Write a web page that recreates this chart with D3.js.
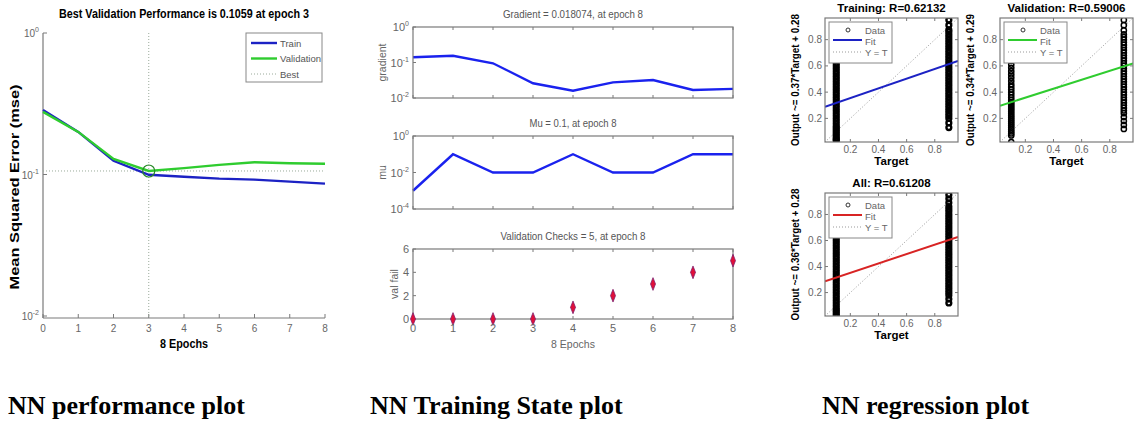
<!DOCTYPE html>
<html>
<head>
<meta charset="utf-8">
<script src="https://cdn.jsdelivr.net/npm/d3@7"></script>
<style>
body { margin: 0; background: #fff; }
svg { display: block; font-family: "Liberation Sans", Arial, sans-serif; }
</style>
</head>
<body>
<svg id="fig" width="1134" height="423"></svg>
<script>
// ---- data ----
var epochs = [0, 1, 2, 3, 4, 5, 6, 7, 8];
var trainPerf = [0.286, 0.2, 0.125, 0.0995, 0.0965, 0.0935, 0.092, 0.089, 0.0862];
var valPerf = [0.277, 0.2, 0.129, 0.1059, 0.111, 0.117, 0.122, 0.12, 0.119];
var bestEpoch = 3;
var bestPerf = 0.1059;

var gradient = [0.14, 0.155, 0.095, 0.026, 0.016, 0.0276, 0.032, 0.0168, 0.018074];
var mu = [0.001, 0.1, 0.01, 0.01, 0.1, 0.01, 0.01, 0.1, 0.1];
var valFail = [0, 0, 0, 0, 1, 2, 3, 4, 5];

var perfTicks = [0.01, 0.1, 1];
var gradTicks = [0.01, 0.1, 1];
var muTicks = [0.0001, 0.01, 1];
var failTicks = [0, 2, 4, 6];
var regTicks = [0.2, 0.4, 0.6, 0.8];

// regression outputs, target 0.1 and target 0.9
var trainOut01 = [0.03, 0.04, 0.05, 0.065, 0.08, 0.095, 0.11, 0.125, 0.14, 0.16, 0.18, 0.2, 0.22, 0.24, 0.26, 0.28, 0.3, 0.32, 0.34, 0.36, 0.38, 0.4, 0.42, 0.44, 0.46, 0.48, 0.5, 0.52, 0.54, 0.56, 0.58, 0.6, 0.62, 0.64, 0.67, 0.7];
var trainOut09 = [0.13, 0.165, 0.2, 0.22, 0.24, 0.26, 0.28, 0.3, 0.32, 0.34, 0.36, 0.38, 0.4, 0.42, 0.44, 0.46, 0.48, 0.5, 0.52, 0.54, 0.56, 0.58, 0.6, 0.62, 0.64, 0.66, 0.68, 0.7, 0.72, 0.74, 0.76, 0.78, 0.8, 0.82, 0.84, 0.86, 0.875, 0.91, 0.95];
var valOut01 = [0.02, 0.07, 0.085, 0.1, 0.115, 0.13, 0.145, 0.16, 0.175, 0.19, 0.205, 0.22, 0.235, 0.25, 0.265, 0.28, 0.295, 0.31, 0.325, 0.34, 0.36, 0.38, 0.4, 0.42, 0.44, 0.46, 0.485, 0.51, 0.535, 0.56, 0.585, 0.61, 0.64];
var valOut09 = [0.12, 0.15, 0.18, 0.21, 0.24, 0.26, 0.28, 0.3, 0.32, 0.34, 0.36, 0.38, 0.4, 0.42, 0.44, 0.46, 0.48, 0.5, 0.52, 0.54, 0.56, 0.58, 0.6, 0.62, 0.64, 0.66, 0.68, 0.7, 0.72, 0.74, 0.76, 0.78, 0.8, 0.82, 0.84, 0.87, 0.91, 0.95];
var allOut01 = [0.02, 0.035, 0.05, 0.065, 0.08, 0.1, 0.12, 0.14, 0.16, 0.18, 0.2, 0.22, 0.24, 0.26, 0.28, 0.3, 0.32, 0.34, 0.36, 0.38, 0.4, 0.42, 0.44, 0.46, 0.48, 0.5, 0.52, 0.54, 0.56, 0.58, 0.6, 0.62, 0.64, 0.67, 0.7];
var allOut09 = [0.12, 0.15, 0.18, 0.2, 0.22, 0.24, 0.26, 0.28, 0.3, 0.32, 0.34, 0.36, 0.38, 0.4, 0.42, 0.44, 0.46, 0.48, 0.5, 0.52, 0.54, 0.56, 0.58, 0.6, 0.62, 0.64, 0.66, 0.68, 0.7, 0.72, 0.74, 0.76, 0.78, 0.8, 0.82, 0.84, 0.86, 0.89, 0.92, 0.95];

var regNames = ["Training", "Validation", "All"];
var regR = ["0.62132", "0.59006", "0.61208"];
var regSlope = [0.37, 0.34, 0.36];
var regIcpt = [0.28, 0.29, 0.28];
var regOut01 = [trainOut01, valOut01, allOut01];
var regOut09 = [trainOut09, valOut09, allOut09];
var regDomain = [0.02, 0.965];

var captions = ["NN performance plot", "NN Training State plot", "NN regression plot"];

// ---- styles ----
var axisGray = "#7a7a7a";
var tickGray = "#666";
var blue = "#1c22c4";
var green = "#2fcc2f";
var red = "#d82424";
var dotGray = "#9aaa9a";

var svg = d3.select("#fig");

function sup(sel, base, exp) {
	sel.text(base);
	sel.append("tspan").attr("dy", -5).attr("font-size", 7).text(exp);
}

function box(g, l, r, t, b) {
	g.append("rect").attr("x", l).attr("y", t).attr("width", r - l).attr("height", b - t)
		.attr("fill", "none").attr("stroke", axisGray).attr("stroke-width", 1.2);
}

// ================= performance plot =================
var pL = { l: 43, r: 325, t: 33, b: 316 };
var xP = d3.scaleLinear().domain([0, 8]).range([pL.l, pL.r]);
var yP = d3.scaleLog().domain([0.01, 1]).range([pL.b, pL.t]);
var gP = svg.append("g");

gP.append("line").attr("x1", pL.l).attr("x2", pL.l).attr("y1", pL.t).attr("y2", pL.b + 2)
	.attr("stroke", axisGray).attr("stroke-width", 1.2);
gP.append("line").attr("x1", pL.l).attr("x2", pL.r).attr("y1", pL.b + 2).attr("y2", pL.b + 2)
	.attr("stroke", axisGray).attr("stroke-width", 1.2);

epochs.forEach(function (e) {
	gP.append("line").attr("x1", xP(e)).attr("x2", xP(e)).attr("y1", pL.b + 2).attr("y2", pL.b - 2)
		.attr("stroke", axisGray);
	gP.append("text").attr("x", xP(e)).attr("y", pL.b + 16).attr("text-anchor", "middle")
		.attr("font-size", 10).attr("fill", tickGray).text(e);
});
perfTicks.forEach(function (v) {
	gP.append("line").attr("x1", pL.l).attr("x2", pL.l + 4).attr("y1", yP(v)).attr("y2", yP(v))
		.attr("stroke", axisGray);
	gP.append("text").attr("x", pL.l - 4).attr("y", yP(v) + 4).attr("text-anchor", "end")
		.attr("font-size", 10).attr("fill", tickGray).call(sup, "10", Math.round(Math.log10(v)));
});

// best lines
gP.append("line").attr("x1", pL.l).attr("x2", pL.r).attr("y1", yP(bestPerf)).attr("y2", yP(bestPerf))
	.attr("stroke", dotGray).attr("stroke-dasharray", "1,2");
gP.append("line").attr("x1", xP(bestEpoch)).attr("x2", xP(bestEpoch)).attr("y1", pL.t).attr("y2", pL.b)
	.attr("stroke", dotGray).attr("stroke-dasharray", "1,2");

var lineP = function (arr) {
	return d3.line().x(function (d, i) { return xP(epochs[i]); }).y(function (d) { return yP(d); })(arr);
};
gP.append("path").attr("d", lineP(trainPerf)).attr("fill", "none").attr("stroke", blue).attr("stroke-width", 2.4);
gP.append("path").attr("d", lineP(valPerf)).attr("fill", "none").attr("stroke", green).attr("stroke-width", 2.4);
gP.append("circle").attr("cx", xP(bestEpoch)).attr("cy", yP(bestPerf)).attr("r", 6)
	.attr("fill", "none").attr("stroke", "#2a8a2a").attr("stroke-width", 1.2);

gP.append("text").attr("x", (pL.l + pL.r) / 2).attr("y", 18).attr("text-anchor", "middle")
	.attr("font-size", 12.5).attr("font-weight", "bold").attr("textLength", 250)
	.attr("lengthAdjust", "spacingAndGlyphs").text("Best Validation Performance is 0.1059 at epoch 3");
gP.append("text").attr("x", (pL.l + pL.r) / 2).attr("y", 348).attr("text-anchor", "middle")
	.attr("font-size", 12).attr("font-weight", "bold").attr("textLength", 48)
	.attr("lengthAdjust", "spacingAndGlyphs").text("8 Epochs");
gP.append("text").attr("transform", "translate(19,187) rotate(-90)").attr("text-anchor", "middle")
	.attr("font-size", 12).attr("font-weight", "bold").attr("textLength", 205)
	.attr("lengthAdjust", "spacingAndGlyphs").text("Mean Squared Error  (mse)");

// legend
var lgP = gP.append("g");
lgP.append("rect").attr("x", 246).attr("y", 33).attr("width", 76).attr("height", 49)
	.attr("fill", "#fff").attr("stroke", "#888");
var perfLegend = [["Train", blue, null], ["Validation", green, null], ["Best", dotGray, "1,2"]];
perfLegend.forEach(function (d, i) {
	var y = 43 + i * 15.5;
	lgP.append("line").attr("x1", 251).attr("x2", 277).attr("y1", y).attr("y2", y)
		.attr("stroke", d[1]).attr("stroke-width", d[2] ? 1 : 2.4).attr("stroke-dasharray", d[2]);
	lgP.append("text").attr("x", 280).attr("y", y + 3.5).attr("font-size", 9.5).attr("fill", "#555").text(d[0]);
});

// ================= training state plot =================
var sx = d3.scaleLinear().domain([0, 8]).range([413, 733]);
var panels = [
	{ t: 27, b: 98, y: d3.scaleLog().domain([0.01, 1]), ticks: gradTicks, log: true, label: "gradient", title: "Gradient = 0.018074, at epoch 8", tw: 140, data: gradient },
	{ t: 136, b: 209, y: d3.scaleLog().domain([0.0001, 1]), ticks: muTicks, log: true, label: "mu", title: "Mu = 0.1, at epoch 8", tw: 87, data: mu },
	{ t: 249, b: 319, y: d3.scaleLinear().domain([0, 6]), ticks: failTicks, log: false, label: "val fail", title: "Validation Checks = 5, at epoch 8", tw: 145, data: valFail }
];
var gS = svg.append("g");
panels.forEach(function (p, k) {
	p.y.range([p.b, p.t]);
	var g = gS.append("g");
	if (p.log) {
		var ln = d3.line().x(function (d, i) { return sx(epochs[i]); }).y(function (d) { return p.y(d); });
		g.append("path").attr("d", ln(p.data)).attr("fill", "none").attr("stroke", "#1a22ee").attr("stroke-width", 2.4);
	}
	box(g, 413, 733, p.t, p.b);
	epochs.forEach(function (e) {
		g.append("line").attr("x1", sx(e)).attr("x2", sx(e)).attr("y1", p.b).attr("y2", p.b - 3).attr("stroke", axisGray);
		g.append("line").attr("x1", sx(e)).attr("x2", sx(e)).attr("y1", p.t).attr("y2", p.t + 3).attr("stroke", axisGray);
	});
	p.ticks.forEach(function (v) {
		g.append("line").attr("x1", 413).attr("x2", 416).attr("y1", p.y(v)).attr("y2", p.y(v)).attr("stroke", axisGray);
		var tx = g.append("text").attr("x", 409).attr("y", p.y(v) + 4).attr("text-anchor", "end")
			.attr("font-size", 11).attr("fill", tickGray);
		if (p.log) tx.call(sup, "10", Math.round(Math.log10(v)));
		else tx.text(v);
	});
	g.append("text").attr("x", 573).attr("y", p.t - 9).attr("text-anchor", "middle")
		.attr("font-size", 10.5).attr("fill", "#555").attr("textLength", p.tw)
		.attr("lengthAdjust", "spacingAndGlyphs").text(p.title);
	var lx = p.log ? 386 : 398;
	g.append("text").attr("transform", "translate(" + lx + "," + (p.t + p.b) / 2 + ") rotate(-90)")
		.attr("text-anchor", "middle").attr("font-size", 10.5).attr("fill", "#666").text(p.label);
	if (!p.log) {
		var diamond = d3.symbol().type(d3.symbolDiamond).size(30);
		g.selectAll("path.pt").data(p.data).enter().append("path").attr("class", "pt")
			.attr("d", diamond)
			.attr("transform", function (d, i) { return "translate(" + sx(epochs[i]) + "," + p.y(d) + ") scale(0.85,1.25)"; })
			.attr("fill", "#e0103a").attr("stroke", "#7a1a6a").attr("stroke-width", 0.7);
		epochs.forEach(function (e) {
			g.append("text").attr("x", sx(e)).attr("y", p.b + 13).attr("text-anchor", "middle")
				.attr("font-size", 11).attr("fill", tickGray).text(e);
		});
		g.append("text").attr("x", 573).attr("y", 348).attr("text-anchor", "middle")
			.attr("font-size", 10.5).attr("fill", "#666").text("8 Epochs");
	}
});

// ================= regression plots =================
var regBoxes = [
	{ l: 825, r: 958, t: 18, b: 142, col: blue, ring: [2.4, 2.4] },
	{ l: 1000, r: 1133, t: 18, b: 142, col: green, ring: [2.6, 1.5] },
	{ l: 825, r: 958, t: 193, b: 316, col: red, ring: [2.4, 2.4] }
];
var regTargets = [0.1, 0.9];
regBoxes.forEach(function (bx, k) {
	var g = svg.append("g");
	var x = d3.scaleLinear().domain(regDomain).range([bx.l, bx.r]);
	var y = d3.scaleLinear().domain(regDomain).range([bx.b, bx.t]);
	g.append("clipPath").attr("id", "clip" + k).append("rect")
		.attr("x", bx.l).attr("y", bx.t).attr("width", bx.r - bx.l).attr("height", bx.b - bx.t);
	var inner = g.append("g").attr("clip-path", "url(#clip" + k + ")");

	// Y = T
	inner.append("line").attr("x1", x(regDomain[0])).attr("y1", y(regDomain[0]))
		.attr("x2", x(regDomain[1])).attr("y2", y(regDomain[1]))
		.attr("stroke", "#999").attr("stroke-dasharray", "1,2");
	// data
	[regOut01[k], regOut09[k]].forEach(function (arr, j) {
		inner.selectAll(null).data(arr).enter().append("circle")
			.attr("cx", x(regTargets[j])).attr("cy", function (d) { return y(d); }).attr("r", bx.ring[0])
			.attr("fill", "none").attr("stroke", "#000").attr("stroke-width", bx.ring[1]);
	});
	// fit
	inner.append("line")
		.attr("x1", x(regDomain[0])).attr("y1", y(regSlope[k] * regDomain[0] + regIcpt[k]))
		.attr("x2", x(regDomain[1])).attr("y2", y(regSlope[k] * regDomain[1] + regIcpt[k]))
		.attr("stroke", bx.col).attr("stroke-width", 2);

	box(g, bx.l, bx.r, bx.t, bx.b);
	regTicks.forEach(function (v) {
		g.append("line").attr("x1", x(v)).attr("x2", x(v)).attr("y1", bx.b).attr("y2", bx.b - 3).attr("stroke", axisGray);
		g.append("line").attr("x1", x(v)).attr("x2", x(v)).attr("y1", bx.t).attr("y2", bx.t + 3).attr("stroke", axisGray);
		g.append("line").attr("x1", bx.l).attr("x2", bx.l + 3).attr("y1", y(v)).attr("y2", y(v)).attr("stroke", axisGray);
		g.append("line").attr("x1", bx.r).attr("x2", bx.r - 3).attr("y1", y(v)).attr("y2", y(v)).attr("stroke", axisGray);
		g.append("text").attr("x", x(v)).attr("y", bx.b + 11).attr("text-anchor", "middle")
			.attr("font-size", 10).attr("fill", tickGray).text(v.toFixed(1));
		g.append("text").attr("x", bx.l - 3).attr("y", y(v) + 3.5).attr("text-anchor", "end")
			.attr("font-size", 10).attr("fill", tickGray).text(v.toFixed(1));
	});

	// legend
	var lg = g.append("g");
	lg.append("rect").attr("x", bx.l + 4).attr("y", bx.t + 4).attr("width", 63).attr("height", 41)
		.attr("fill", "#fff").attr("stroke", "#888");
	lg.append("circle").attr("cx", bx.l + 23).attr("cy", bx.t + 12).attr("r", 2)
		.attr("fill", "none").attr("stroke", "#333");
	lg.append("line").attr("x1", bx.l + 8).attr("x2", bx.l + 37).attr("y1", bx.t + 22).attr("y2", bx.t + 22)
		.attr("stroke", bx.col).attr("stroke-width", 2);
	lg.append("line").attr("x1", bx.l + 8).attr("x2", bx.l + 37).attr("y1", bx.t + 34).attr("y2", bx.t + 34)
		.attr("stroke", "#999").attr("stroke-dasharray", "1,2");
	["Data", "Fit", "Y = T"].forEach(function (s, i) {
		lg.append("text").attr("x", bx.l + 40).attr("y", bx.t + 15.5 + i * 11).attr("font-size", 9.5)
			.attr("fill", "#666").text(s);
	});

	var cx = (bx.l + bx.r) / 2;
	g.append("text").attr("x", cx).attr("y", bx.t - 6).attr("text-anchor", "middle")
		.attr("font-size", 11.5).attr("font-weight", "bold").text(regNames[k] + ": R=" + regR[k]);
	g.append("text").attr("x", cx).attr("y", bx.b + 23).attr("text-anchor", "middle")
		.attr("font-size", 11.5).attr("font-weight", "bold").text("Target");
	g.append("text").attr("transform", "translate(" + (bx.l - 26) + "," + (bx.t + bx.b) / 2 + ") rotate(-90)")
		.attr("text-anchor", "middle").attr("font-size", 11).attr("font-weight", "bold")
		.attr("textLength", 132).attr("lengthAdjust", "spacingAndGlyphs")
		.text("Output ~= " + regSlope[k] + "*Target + " + regIcpt[k]);
});

// ================= captions =================
var capX = [8, 370, 822];
captions.forEach(function (c, i) {
	svg.append("text").attr("x", capX[i]).attr("y", 414)
		.attr("font-family", "'Liberation Serif', 'Times New Roman', serif")
		.attr("font-size", 26).attr("font-weight", "bold").text(c);
});
</script>
</body>
</html>
